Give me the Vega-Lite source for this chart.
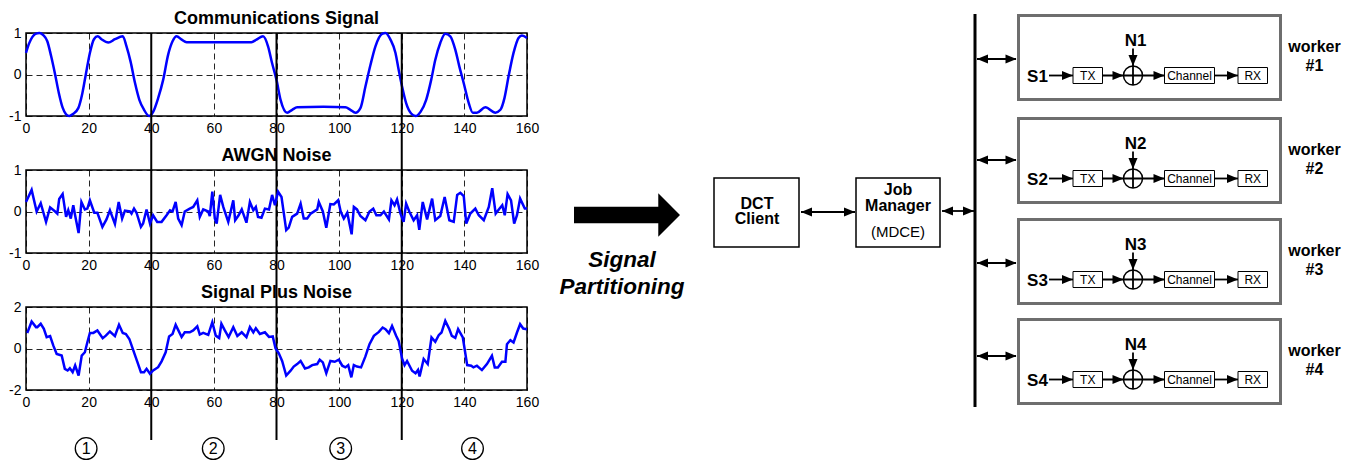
{
"$schema": "https://vega.github.io/schema/vega-lite/v6.json",
"background": "white",
"padding": {"left": 7, "top": 9, "right": 0, "bottom": 0},
"bounds": "flush",
"align": "each",
"columns": 2,
"spacing": {"row": 54, "column": 13},
"config": {
  "font": "Liberation Sans",
  "view": {"stroke": "#000", "strokeWidth": 1.5},
  "axis": {"ticks": false, "domain": false, "labelFontSize": 14, "labelColor": "#000", "labelPadding": 5, "labelFlush": false, "labelOverlap": false, "grid": true, "gridColor": "#000", "gridDash": [6, 4], "gridWidth": 1, "gridOpacity": 0.85, "labelFont": "Liberation Sans"},
  "title": {"fontSize": 18, "fontWeight": "bold", "color": "#000", "offset": -2, "baseline": "alphabetic", "font": "Liberation Sans", "frame": "group"}
},
"datasets": {
  "signal": [
    {"t":0,"v":0.52},{"t":1,"v":0.75},{"t":2,"v":0.9},{"t":3,"v":0.98},{"t":4.3,"v":1.0},{"t":5.5,"v":0.95},{"t":6.8,"v":0.8},{"t":8,"v":0.45},{"t":9.3,"v":0},{"t":10.5,"v":-0.45},{"t":11.7,"v":-0.8},{"t":12.8,"v":-0.96},{"t":13.8,"v":-1.0},{"t":15,"v":-0.95},{"t":16.7,"v":-0.81},{"t":18,"v":-0.45},{"t":19.1,"v":0},{"t":20.4,"v":0.52},{"t":21.7,"v":0.85},{"t":22.9,"v":0.92},{"t":24.1,"v":0.85},{"t":26.3,"v":0.77},{"t":28.4,"v":0.85},{"t":30.9,"v":0.92},{"t":32.1,"v":0.68},{"t":33.4,"v":0.31},{"t":34.8,"v":-0.2},{"t":36.2,"v":-0.61},{"t":37.7,"v":-0.85},{"t":39.3,"v":-1.0},{"t":40.6,"v":-0.9},{"t":42.2,"v":-0.57},{"t":43.8,"v":-0.13},{"t":45.4,"v":0.48},{"t":46.8,"v":0.8},{"t":48.1,"v":0.92},{"t":49.7,"v":0.84},{"t":51.3,"v":0.78},{"t":60,"v":0.78},{"t":72,"v":0.78},{"t":73.6,"v":0.84},{"t":75.7,"v":0.92},{"t":77.3,"v":0.68},{"t":78.6,"v":0.27},{"t":80,"v":-0.13},{"t":81.3,"v":-0.61},{"t":83.4,"v":-0.92},{"t":85,"v":-0.85},{"t":86.6,"v":-0.79},{"t":95,"v":-0.78},{"t":102,"v":-0.79},{"t":103.6,"v":-0.85},{"t":105.2,"v":-0.92},{"t":106.8,"v":-0.81},{"t":108.4,"v":-0.29},{"t":110,"v":0.23},{"t":111.6,"v":0.68},{"t":113.7,"v":0.98},{"t":114.8,"v":1.0},{"t":116.4,"v":0.84},{"t":118,"v":0.52},{"t":119,"v":0.12},{"t":120.1,"v":-0.29},{"t":121.4,"v":-0.69},{"t":123,"v":-0.94},{"t":124.4,"v":-1.0},{"t":126,"v":-0.9},{"t":127.8,"v":-0.61},{"t":129.4,"v":-0.13},{"t":130.7,"v":0.35},{"t":132.3,"v":0.76},{"t":133.9,"v":0.98},{"t":135.5,"v":0.92},{"t":137.1,"v":0.6},{"t":138.4,"v":0.19},{"t":139.8,"v":-0.21},{"t":141.4,"v":-0.69},{"t":142.7,"v":-0.92},{"t":144,"v":-0.92},{"t":146.7,"v":-0.79},{"t":149.9,"v":-0.92},{"t":151.5,"v":-0.85},{"t":152.8,"v":-0.57},{"t":154.1,"v":-0.05},{"t":155.7,"v":0.52},{"t":157.3,"v":0.88},{"t":158.4,"v":0.94},{"t":160,"v":0.88}
  ],
  "noise": [
    {"t":0,"v":0.23},{"t":1.8,"v":0.52},{"t":3.4,"v":0.0},{"t":4.7,"v":0.2},{"t":6.4,"v":-0.25},{"t":7.7,"v":0.1},{"t":9.3,"v":0},{"t":10,"v":-0.05},{"t":10.6,"v":0.3},{"t":11.7,"v":0.42},{"t":12.8,"v":-0.13},{"t":13.5,"v":0.03},{"t":14.3,"v":-0.17},{"t":15.1,"v":0.15},{"t":15.6,"v":-0.06},{"t":16.8,"v":-0.52},{"t":17.7,"v":0.23},{"t":18.8,"v":0.05},{"t":19.6,"v":0.07},{"t":20.4,"v":0.27},{"t":21.8,"v":-0.03},{"t":22.8,"v":-0.03},{"t":24.4,"v":-0.37},{"t":25.7,"v":-0.19},{"t":26.8,"v":0.03},{"t":28.4,"v":-0.3},{"t":29.6,"v":0.23},{"t":30.7,"v":-0.17},{"t":31.6,"v":0.02},{"t":33.2,"v":0},{"t":33.7,"v":-0.05},{"t":34.5,"v":0.07},{"t":35.3,"v":-0.03},{"t":36.7,"v":-0.37},{"t":37.4,"v":-0.29},{"t":38.5,"v":0.05},{"t":39.6,"v":-0.29},{"t":40.6,"v":-0.09},{"t":41.9,"v":-0.25},{"t":43.3,"v":-0.25},{"t":44.9,"v":-0.09},{"t":46,"v":0.03},{"t":46.8,"v":0},{"t":47.8,"v":0.23},{"t":48.6,"v":-0.17},{"t":49.7,"v":-0.33},{"t":50.7,"v":0},{"t":52.3,"v":0.07},{"t":53.4,"v":0.11},{"t":54.7,"v":0.27},{"t":55.5,"v":-0.13},{"t":56.6,"v":0.05},{"t":58.2,"v":0},{"t":58.7,"v":-0.11},{"t":59.5,"v":0.48},{"t":60.3,"v":-0.17},{"t":60.9,"v":-0.29},{"t":62,"v":0.4},{"t":63,"v":0.11},{"t":64.6,"v":-0.25},{"t":66.2,"v":0.27},{"t":66.8,"v":-0.21},{"t":67.9,"v":-0.09},{"t":68.9,"v":0.05},{"t":70.4,"v":-0.27},{"t":71.5,"v":0.23},{"t":72.6,"v":0.03},{"t":73.4,"v":0.11},{"t":74.1,"v":-0.13},{"t":75.2,"v":-0.15},{"t":76.3,"v":0.07},{"t":77.6,"v":0.05},{"t":78.6,"v":0.4},{"t":79.5,"v":0.15},{"t":80.5,"v":0.48},{"t":81.6,"v":0.35},{"t":83.1,"v":-0.45},{"t":83.9,"v":-0.39},{"t":85,"v":-0.13},{"t":86.6,"v":-0.05},{"t":87.7,"v":0.19},{"t":88.7,"v":-0.17},{"t":89.8,"v":-0.17},{"t":90.9,"v":-0.05},{"t":93,"v":0.05},{"t":93.5,"v":0.23},{"t":94.8,"v":0},{"t":95.9,"v":-0.39},{"t":97.2,"v":0.18},{"t":98.3,"v":0.17},{"t":99.7,"v":0.27},{"t":100.5,"v":0},{"t":101.5,"v":-0.17},{"t":102.6,"v":-0.03},{"t":104,"v":-0.55},{"t":104.7,"v":0.11},{"t":105.7,"v":0.05},{"t":106.8,"v":-0.11},{"t":108.4,"v":-0.21},{"t":109.7,"v":0},{"t":110.9,"v":0.07},{"t":111.9,"v":-0.09},{"t":113.2,"v":-0.09},{"t":114.3,"v":0},{"t":115.9,"v":-0.19},{"t":116.7,"v":0.27},{"t":117.7,"v":0.15},{"t":118.5,"v":0.29},{"t":119.6,"v":-0.05},{"t":120.6,"v":-0.25},{"t":121.4,"v":0.19},{"t":122.4,"v":0},{"t":123.8,"v":-0.21},{"t":124.9,"v":-0.09},{"t":125.6,"v":-0.44},{"t":126.7,"v":0.23},{"t":128.1,"v":-0.19},{"t":129.7,"v":0.31},{"t":130.7,"v":-0.21},{"t":132.3,"v":-0.11},{"t":133.7,"v":0.35},{"t":135.2,"v":-0.21},{"t":136.6,"v":-0.25},{"t":137.7,"v":0.4},{"t":138.7,"v":0.45},{"t":139.8,"v":0.37},{"t":140.6,"v":-0.29},{"t":141.9,"v":-0.05},{"t":143.5,"v":0.07},{"t":144.6,"v":-0.09},{"t":146.2,"v":-0.21},{"t":147.8,"v":0.11},{"t":148.9,"v":0.56},{"t":150,"v":-0.05},{"t":151,"v":0.05},{"t":152.1,"v":0.15},{"t":152.9,"v":-0.09},{"t":153.8,"v":0.42},{"t":154.9,"v":0.27},{"t":155.9,"v":-0.29},{"t":156.8,"v":-0.09},{"t":157.8,"v":0.31},{"t":159.3,"v":0.07},{"t":160,"v":0.07}
  ],
  "sn": [
    {"t":0.4,"v":0.75},{"t":1.8,"v":1.3},{"t":3.2,"v":1.03},{"t":3.6,"v":1.03},{"t":4.7,"v":1.19},{"t":5.7,"v":0.95},{"t":6.6,"v":0.55},{"t":7.7,"v":0.6},{"t":8.7,"v":0.15},{"t":9.8,"v":-0.26},{"t":11.4,"v":-0.34},{"t":12.4,"v":-0.98},{"t":13.3,"v":-1.06},{"t":14,"v":-0.95},{"t":14.9,"v":-1.14},{"t":15.7,"v":-0.82},{"t":16.8,"v":-1.3},{"t":17.8,"v":-0.34},{"t":18.8,"v":-0.18},{"t":19.6,"v":0.3},{"t":20.4,"v":0.75},{"t":21.5,"v":0.75},{"t":22.8,"v":0.87},{"t":24.5,"v":0.5},{"t":25.5,"v":0.62},{"t":26.8,"v":0.82},{"t":28.4,"v":0.6},{"t":29.7,"v":1.14},{"t":30.9,"v":0.75},{"t":31.9,"v":0.7},{"t":33,"v":0.46},{"t":34.3,"v":-0.1},{"t":35.5,"v":-0.62},{"t":36.7,"v":-1.14},{"t":37.7,"v":-1.14},{"t":38.5,"v":-0.98},{"t":39.6,"v":-1.22},{"t":40.6,"v":-1.06},{"t":42.2,"v":-0.9},{"t":43.3,"v":-0.62},{"t":44.6,"v":-0.18},{"t":45.7,"v":0.58},{"t":46.8,"v":0.7},{"t":47.8,"v":1.14},{"t":49.7,"v":0.55},{"t":50.7,"v":0.78},{"t":52.3,"v":0.78},{"t":53.4,"v":0.87},{"t":54.7,"v":1.07},{"t":55.5,"v":0.67},{"t":56.6,"v":0.75},{"t":58.2,"v":0.66},{"t":59.5,"v":1.27},{"t":60.6,"v":0.62},{"t":61.7,"v":0.5},{"t":62.4,"v":1.19},{"t":63.5,"v":0.87},{"t":64.7,"v":0.55},{"t":66.2,"v":1.03},{"t":67.5,"v":0.6},{"t":68.9,"v":0.78},{"t":70.4,"v":0.55},{"t":71.5,"v":1.03},{"t":72.6,"v":0.78},{"t":73.4,"v":0.98},{"t":74.7,"v":0.7},{"t":76.3,"v":0.78},{"t":77.6,"v":0.56},{"t":78.8,"v":0.58},{"t":79.7,"v":0},{"t":80.7,"v":-0.22},{"t":81.8,"v":-0.6},{"t":83.1,"v":-1.3},{"t":84.5,"v":-1.07},{"t":85.5,"v":-0.87},{"t":86.6,"v":-0.75},{"t":87.7,"v":-0.6},{"t":89.1,"v":-0.96},{"t":90.3,"v":-0.91},{"t":91.4,"v":-0.8},{"t":93,"v":-0.75},{"t":93.8,"v":-0.54},{"t":94.8,"v":-0.67},{"t":95.9,"v":-1.19},{"t":97.2,"v":-0.6},{"t":98.6,"v":-0.64},{"t":99.9,"v":-0.54},{"t":101,"v":-0.83},{"t":102,"v":-0.91},{"t":102.9,"v":-0.8},{"t":103.9,"v":-1.39},{"t":104.7,"v":-0.8},{"t":105.7,"v":-0.87},{"t":107,"v":-0.91},{"t":108.4,"v":-0.38},{"t":109.7,"v":0.21},{"t":111.1,"v":0.61},{"t":112.7,"v":0.8},{"t":113.9,"v":1.01},{"t":114.8,"v":0.93},{"t":115.9,"v":0.74},{"t":116.9,"v":1.09},{"t":118.2,"v":0.61},{"t":119,"v":0.37},{"t":120.1,"v":-0.48},{"t":120.9,"v":-0.8},{"t":121.7,"v":-0.6},{"t":123.3,"v":-1.07},{"t":124.4,"v":-1.19},{"t":125.2,"v":-1.03},{"t":125.7,"v":-1.35},{"t":127,"v":-0.51},{"t":128.3,"v":-0.75},{"t":129.5,"v":0.53},{"t":130.7,"v":0.32},{"t":131.8,"v":0.64},{"t":132.7,"v":0.77},{"t":133.9,"v":1.33},{"t":135.2,"v":0.93},{"t":136,"v":0.61},{"t":137.1,"v":0.51},{"t":138,"v":0.93},{"t":139.5,"v":0.53},{"t":140.9,"v":-0.8},{"t":142.2,"v":-0.83},{"t":142.9,"v":-0.91},{"t":144,"v":-0.83},{"t":145.6,"v":-1.04},{"t":147.2,"v":-0.75},{"t":148.8,"v":-0.35},{"t":149.7,"v":-0.91},{"t":150.7,"v":-0.91},{"t":152,"v":-0.64},{"t":153.1,"v":-0.64},{"t":153.6,"v":0.21},{"t":154.7,"v":0.4},{"t":155.7,"v":0.29},{"t":156.8,"v":0.77},{"t":157.8,"v":1.17},{"t":158.8,"v":0.96},{"t":160,"v":0.93}
  ],
  "parts": [{"b":40},{"b":80},{"b":120}],
  "circ": [{"m":19.2,"n":"1"},{"m":59.8,"n":"2"},{"m":100.5,"n":"3"},{"m":142.6,"n":"4"}],
  "bigarrow": [{"x":627,"y":215}],
  "boxes": [
    {"x":714,"x2":799,"y":178,"y2":247,"k":"main"},
    {"x":856,"x2":940,"y":178,"y2":247,"k":"main"},
    {"x":1018.5,"x2":1280.5,"y":15.5,"y2":99.5,"k":"worker"},
    {"x":1018.5,"x2":1280.5,"y":118.5,"y2":202.5,"k":"worker"},
    {"x":1018.5,"x2":1280.5,"y":219.5,"y2":303.5,"k":"worker"},
    {"x":1018.5,"x2":1280.5,"y":319.5,"y2":403.5,"k":"worker"},
    {"x":1073,"x2":1102.5,"y":67.5,"y2":83.5,"k":"small"},
    {"x":1164.5,"x2":1214.5,"y":67.5,"y2":83.5,"k":"small"},
    {"x":1238,"x2":1267.5,"y":67.5,"y2":83.5,"k":"small"},
    {"x":1073,"x2":1102.5,"y":170.5,"y2":186.5,"k":"small"},
    {"x":1164.5,"x2":1214.5,"y":170.5,"y2":186.5,"k":"small"},
    {"x":1238,"x2":1267.5,"y":170.5,"y2":186.5,"k":"small"},
    {"x":1073,"x2":1102.5,"y":271.5,"y2":287.5,"k":"small"},
    {"x":1164.5,"x2":1214.5,"y":271.5,"y2":287.5,"k":"small"},
    {"x":1238,"x2":1267.5,"y":271.5,"y2":287.5,"k":"small"},
    {"x":1073,"x2":1102.5,"y":371.5,"y2":387.5,"k":"small"},
    {"x":1164.5,"x2":1214.5,"y":371.5,"y2":387.5,"k":"small"},
    {"x":1238,"x2":1267.5,"y":371.5,"y2":387.5,"k":"small"}
  ],
  "segs": [
    {"x":801,"x2":855,"y":212,"y2":212,"k":"thin"},
    {"x":942,"x2":974,"y":211,"y2":211,"k":"thin"},
    {"x":977,"x2":1016,"y":59,"y2":59,"k":"thin"},
    {"x":977,"x2":1016,"y":160,"y2":160,"k":"thin"},
    {"x":977,"x2":1016,"y":263,"y2":263,"k":"thin"},
    {"x":977,"x2":1016,"y":356,"y2":356,"k":"thin"},
    {"x":1049,"x2":1073,"y":75.5,"y2":75.5,"k":"thin"},
    {"x":1102.5,"x2":1164.5,"y":75.5,"y2":75.5,"k":"thin"},
    {"x":1214.5,"x2":1238,"y":75.5,"y2":75.5,"k":"thin"},
    {"x":1133,"x2":1133,"y":48.5,"y2":85,"k":"thin"},
    {"x":1049,"x2":1073,"y":178.5,"y2":178.5,"k":"thin"},
    {"x":1102.5,"x2":1164.5,"y":178.5,"y2":178.5,"k":"thin"},
    {"x":1214.5,"x2":1238,"y":178.5,"y2":178.5,"k":"thin"},
    {"x":1133,"x2":1133,"y":151.5,"y2":188,"k":"thin"},
    {"x":1049,"x2":1073,"y":279.5,"y2":279.5,"k":"thin"},
    {"x":1102.5,"x2":1164.5,"y":279.5,"y2":279.5,"k":"thin"},
    {"x":1214.5,"x2":1238,"y":279.5,"y2":279.5,"k":"thin"},
    {"x":1133,"x2":1133,"y":252.5,"y2":289,"k":"thin"},
    {"x":1049,"x2":1073,"y":379.5,"y2":379.5,"k":"thin"},
    {"x":1102.5,"x2":1164.5,"y":379.5,"y2":379.5,"k":"thin"},
    {"x":1214.5,"x2":1238,"y":379.5,"y2":379.5,"k":"thin"},
    {"x":1133,"x2":1133,"y":352.5,"y2":389,"k":"thin"},
    {"x":975,"x2":975,"y":14,"y2":407,"k":"bus"}
  ],
  "heads": [
    {"x":806.5,"y":212,"a":180},{"x":849.5,"y":212,"a":0},
    {"x":947.5,"y":211,"a":180},{"x":968.5,"y":211,"a":0},
    {"x":982.5,"y":59,"a":180},{"x":1011,"y":59,"a":0},
    {"x":982.5,"y":160,"a":180},{"x":1011,"y":160,"a":0},
    {"x":982.5,"y":263,"a":180},{"x":1011,"y":263,"a":0},
    {"x":982.5,"y":356,"a":180},{"x":1011,"y":356,"a":0},
    {"x":1067.5,"y":75.5,"a":0},{"x":1118,"y":75.5,"a":0},{"x":1159,"y":75.5,"a":0},{"x":1232.5,"y":75.5,"a":0},{"x":1133,"y":60.5,"a":90},
    {"x":1067.5,"y":178.5,"a":0},{"x":1118,"y":178.5,"a":0},{"x":1159,"y":178.5,"a":0},{"x":1232.5,"y":178.5,"a":0},{"x":1133,"y":163.5,"a":90},
    {"x":1067.5,"y":279.5,"a":0},{"x":1118,"y":279.5,"a":0},{"x":1159,"y":279.5,"a":0},{"x":1232.5,"y":279.5,"a":0},{"x":1133,"y":264.5,"a":90},
    {"x":1067.5,"y":379.5,"a":0},{"x":1118,"y":379.5,"a":0},{"x":1159,"y":379.5,"a":0},{"x":1232.5,"y":379.5,"a":0},{"x":1133,"y":364.5,"a":90}
  ],
  "sums": [{"x":1133,"y":75.5},{"x":1133,"y":178.5},{"x":1133,"y":279.5},{"x":1133,"y":379.5}],
  "labels": [
    {"x":757,"y":208.5,"text":"DCT","s":"b16"},
    {"x":757,"y":223.5,"text":"Client","s":"b16"},
    {"x":898,"y":195,"text":"Job","s":"b16"},
    {"x":898,"y":210.5,"text":"Manager","s":"b16"},
    {"x":898,"y":236.5,"text":"(MDCE)","s":"r15"},
    {"x":622,"y":266.7,"text":"Signal","s":"bi22"},
    {"x":622,"y":294.3,"text":"Partitioning","s":"bi22"},
    {"x":1037.5,"y":82,"text":"S1","s":"b17"},
    {"x":1037.5,"y":185,"text":"S2","s":"b17"},
    {"x":1037.5,"y":286,"text":"S3","s":"b17"},
    {"x":1037.5,"y":386,"text":"S4","s":"b17"},
    {"x":1135.5,"y":45.5,"text":"N1","s":"b17"},
    {"x":1135.5,"y":148.5,"text":"N2","s":"b17"},
    {"x":1135.5,"y":249.5,"text":"N3","s":"b17"},
    {"x":1135.5,"y":349.5,"text":"N4","s":"b17"},
    {"x":1087.75,"y":79.8,"text":"TX","s":"r12"},
    {"x":1189.5,"y":79.8,"text":"Channel","s":"r12"},
    {"x":1252.75,"y":79.8,"text":"RX","s":"r12"},
    {"x":1087.75,"y":182.8,"text":"TX","s":"r12"},
    {"x":1189.5,"y":182.8,"text":"Channel","s":"r12"},
    {"x":1252.75,"y":182.8,"text":"RX","s":"r12"},
    {"x":1087.75,"y":283.8,"text":"TX","s":"r12"},
    {"x":1189.5,"y":283.8,"text":"Channel","s":"r12"},
    {"x":1252.75,"y":283.8,"text":"RX","s":"r12"},
    {"x":1087.75,"y":383.8,"text":"TX","s":"r12"},
    {"x":1189.5,"y":383.8,"text":"Channel","s":"r12"},
    {"x":1252.75,"y":383.8,"text":"RX","s":"r12"},
    {"x":1314.5,"y":52,"text":"worker","s":"b16"},
    {"x":1314.5,"y":70.5,"text":"#1","s":"b16"},
    {"x":1314.5,"y":155,"text":"worker","s":"b16"},
    {"x":1314.5,"y":173.5,"text":"#2","s":"b16"},
    {"x":1314.5,"y":256,"text":"worker","s":"b16"},
    {"x":1314.5,"y":274.5,"text":"#3","s":"b16"},
    {"x":1314.5,"y":356,"text":"worker","s":"b16"},
    {"x":1314.5,"y":374.5,"text":"#4","s":"b16"}
  ]
},
"concat": [
  {
    "width": 501, "height": 83,
    "title": "Communications Signal",
    "layer": [
      {"data": {"name": "signal"}, "mark": {"type": "line", "color": "#0000ff", "strokeWidth": 2.5, "interpolate": "monotone"},
       "encoding": {
         "x": {"field": "t", "type": "quantitative", "scale": {"domain": [0, 160], "nice": false, "zero": false}, "axis": {"values": [0,20,40,60,80,100,120,140,160], "title": null}},
         "y": {"field": "v", "type": "quantitative", "scale": {"domain": [-1, 1], "nice": false, "zero": false}, "axis": {"values": [-1,0,1], "title": null, "labelExpr": "datum.value + ''"}}}},
      {"data": {"name": "parts"}, "mark": {"type": "rule", "color": "#000", "strokeWidth": 2},
       "encoding": {"x": {"field": "b", "type": "quantitative"}, "y": {"datum": 1}, "y2": {"datum": -8.81}}}
    ]
  },
  {
    "width": 814, "height": 83,
    "view": {"stroke": null},
    "encoding": {
      "x": {"field": "x", "type": "quantitative", "scale": {"domain": [540, 1354], "nice": false, "zero": false}, "axis": null},
      "y": {"field": "y", "type": "quantitative", "scale": {"domain": [33, 116], "nice": false, "zero": false, "reverse": true}, "axis": null}
    },
    "layer": [
      {"data": {"name": "bigarrow"}, "mark": {"type": "point", "shape": "M-1,-0.157L0.59,-0.157L0.59,-0.41L1,0L0.59,0.41L0.59,0.157L-1,0.157Z", "size": 11236, "filled": true, "color": "#000", "opacity": 1}},
      {"data": {"name": "boxes"}, "transform": [{"filter": "datum.k === 'main'"}], "mark": {"type": "rect", "fill": "white", "stroke": "#000", "strokeWidth": 1.5},
       "encoding": {"x2": {"field": "x2"}, "y2": {"field": "y2"}}},
      {"data": {"name": "boxes"}, "transform": [{"filter": "datum.k === 'worker'"}], "mark": {"type": "rect", "fill": "white", "stroke": "#6e6e6e", "strokeWidth": 3},
       "encoding": {"x2": {"field": "x2"}, "y2": {"field": "y2"}}},
      {"data": {"name": "segs"}, "transform": [{"filter": "datum.k === 'thin'"}], "mark": {"type": "rule", "color": "#000", "strokeWidth": 1.8},
       "encoding": {"x2": {"field": "x2"}, "y2": {"field": "y2"}}},
      {"data": {"name": "segs"}, "transform": [{"filter": "datum.k === 'bus'"}], "mark": {"type": "rule", "color": "#000", "strokeWidth": 3},
       "encoding": {"x2": {"field": "x2"}, "y2": {"field": "y2"}}},
      {"data": {"name": "boxes"}, "transform": [{"filter": "datum.k === 'small'"}], "mark": {"type": "rect", "fill": "white", "stroke": "#000", "strokeWidth": 1},
       "encoding": {"x2": {"field": "x2"}, "y2": {"field": "y2"}}},
      {"data": {"name": "sums"}, "mark": {"type": "point", "shape": "circle", "size": 361, "filled": false, "stroke": "#000", "strokeWidth": 1.5, "opacity": 1}},
      {"data": {"name": "heads"}, "mark": {"type": "point", "shape": "M-1,-0.82L1,0L-1,0.82Z", "size": 121, "filled": true, "color": "#000", "opacity": 1},
       "encoding": {"angle": {"field": "a", "type": "quantitative", "scale": null}}},
      {"data": {"name": "labels"}, "transform": [{"filter": "datum.s === 'r15'"}], "mark": {"type": "text", "fontSize": 15, "align": "center", "baseline": "alphabetic", "color": "#000"},
       "encoding": {"text": {"field": "text"}}},
      {"data": {"name": "labels"}, "transform": [{"filter": "datum.s === 'b17'"}], "mark": {"type": "text", "fontSize": 17, "fontWeight": "bold", "align": "center", "baseline": "alphabetic", "color": "#000"},
       "encoding": {"text": {"field": "text"}}},
      {"data": {"name": "labels"}, "transform": [{"filter": "datum.s === 'r12'"}], "mark": {"type": "text", "fontSize": 12, "align": "center", "baseline": "alphabetic", "color": "#000"},
       "encoding": {"text": {"field": "text"}}},
      {"data": {"name": "labels"}, "transform": [{"filter": "datum.s === 'b16'"}], "mark": {"type": "text", "fontSize": 16, "fontWeight": "bold", "align": "center", "baseline": "alphabetic", "color": "#000"},
       "encoding": {"text": {"field": "text"}}},
      {"data": {"name": "labels"}, "transform": [{"filter": "datum.s === 'bi22'"}], "mark": {"type": "text", "fontSize": 22.5, "fontWeight": "bold", "fontStyle": "italic", "align": "center", "baseline": "alphabetic", "color": "#000"},
       "encoding": {"text": {"field": "text"}}}
    ]
  },
  {
    "width": 501, "height": 83,
    "title": "AWGN Noise",
    "layer": [
      {"data": {"name": "noise"}, "mark": {"type": "line", "color": "#0000ff", "strokeWidth": 2.5},
       "encoding": {
         "x": {"field": "t", "type": "quantitative", "scale": {"domain": [0, 160], "nice": false, "zero": false}, "axis": {"values": [0,20,40,60,80,100,120,140,160], "title": null}},
         "y": {"field": "v", "type": "quantitative", "scale": {"domain": [-1, 1], "nice": false, "zero": false}, "axis": {"values": [-1,0,1], "title": null, "labelExpr": "datum.value + ''"}}}}
    ]
  },
  {
    "width": 814, "height": 83,
    "view": {"stroke": null},
    "data": {"values": [{"z": 0}]},
    "mark": {"type": "point", "opacity": 0},
    "encoding": {}
  },
  {
    "width": 501, "height": 83,
    "title": "Signal Plus Noise",
    "layer": [
      {"data": {"name": "sn"}, "mark": {"type": "line", "color": "#0000ff", "strokeWidth": 2.5},
       "encoding": {
         "x": {"field": "t", "type": "quantitative", "scale": {"domain": [0, 160], "nice": false, "zero": false}, "axis": {"values": [0,20,40,60,80,100,120,140,160], "title": null}},
         "y": {"field": "v", "type": "quantitative", "scale": {"domain": [-2, 2], "nice": false, "zero": false}, "axis": {"values": [-2,0,2], "title": null, "labelExpr": "datum.value + ''"}}}},
      {"data": {"name": "circ"}, "mark": {"type": "point", "shape": "circle", "size": 470, "filled": false, "stroke": "#000", "strokeWidth": 1.3, "opacity": 1},
       "encoding": {"x": {"field": "m", "type": "quantitative"}, "y": {"datum": -4.82}}},
      {"data": {"name": "circ"}, "mark": {"type": "text", "fontSize": 16, "baseline": "middle", "align": "center", "color": "#000"},
       "encoding": {"x": {"field": "m", "type": "quantitative"}, "y": {"datum": -4.82}, "text": {"field": "n"}}}
    ]
  }
]
}
